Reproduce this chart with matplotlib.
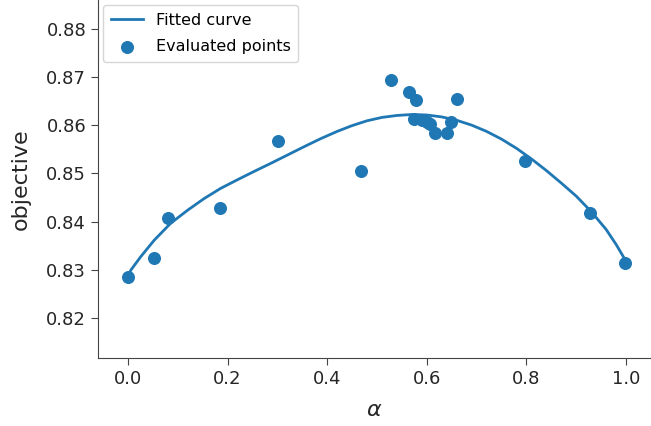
import matplotlib
matplotlib.use("Agg")
import matplotlib.pyplot as plt

# evaluated points (alpha, objective)
alpha_pts = [0.0, 0.0515, 0.0815, 0.185, 0.302, 0.468, 0.528, 0.565, 0.5785,
             0.574, 0.590, 0.600, 0.607, 0.617, 0.641, 0.649, 0.661,
             0.798, 0.928, 0.998]
obj_pts = [0.8286, 0.8324, 0.8407, 0.8428, 0.8568, 0.8506, 0.8693, 0.8669, 0.8652,
           0.8613, 0.8611, 0.8606, 0.8603, 0.8583, 0.8583, 0.8607, 0.8655,
           0.8526, 0.8418, 0.8314]

# fitted curve
alpha_fit = [0.0, 0.006, 0.026, 0.053, 0.086, 0.12, 0.153, 0.186, 0.22, 0.253,
             0.287, 0.32, 0.353, 0.387, 0.42, 0.45, 0.48, 0.51, 0.54, 0.57,
             0.60, 0.63, 0.66, 0.69, 0.72, 0.75, 0.78, 0.81, 0.84, 0.87,
             0.90, 0.93, 0.96, 0.98, 1.0]
obj_fit = [0.8287, 0.8300, 0.8328, 0.8362, 0.8397, 0.8424, 0.8448, 0.8469, 0.8487,
           0.8504, 0.8521, 0.8538, 0.8555, 0.8572, 0.8587, 0.8599, 0.8609, 0.8616,
           0.8620, 0.8622, 0.8621, 0.8617, 0.8610, 0.8600, 0.8587, 0.8571, 0.8552,
           0.8530, 0.8506, 0.8480, 0.8453, 0.8421, 0.8384, 0.8353, 0.8318]

fig = plt.figure(figsize=(6.51, 4.26), dpi=100)
ax = fig.add_axes([98 / 651, 68 / 426, 553 / 651, 358 / 426])

ax.plot(alpha_fit, obj_fit, color='#1f77b4', linewidth=2, label='Fitted curve')
ax.scatter(alpha_pts, obj_pts, color='#1f77b4', s=70, zorder=3, label='Evaluated points')

ax.set_xlim(-0.06, 1.05)
ax.set_ylim(0.8118, 0.8859)
ax.set_xticks([0.0, 0.2, 0.4, 0.6, 0.8, 1.0])
ax.set_yticks([0.82, 0.83, 0.84, 0.85, 0.86, 0.87, 0.88])
ax.tick_params(labelsize=13, length=5, color='#444444', labelcolor='#262626')

ax.spines['top'].set_visible(False)
ax.spines['right'].set_visible(False)
for s in ['left', 'bottom']:
    ax.spines[s].set_color('#444444')

ax.set_xlabel(r'$\alpha$', fontsize=16, color='#262626', labelpad=9)
ax.set_ylabel('objective', fontsize=16, color='#262626', labelpad=11)

ax.legend(loc='upper left', fontsize=11.5, bbox_to_anchor=(0.0, 1.0),
          borderaxespad=0.3, labelspacing=0.7, borderpad=0.5)

fig.savefig('out.png', dpi=100)
